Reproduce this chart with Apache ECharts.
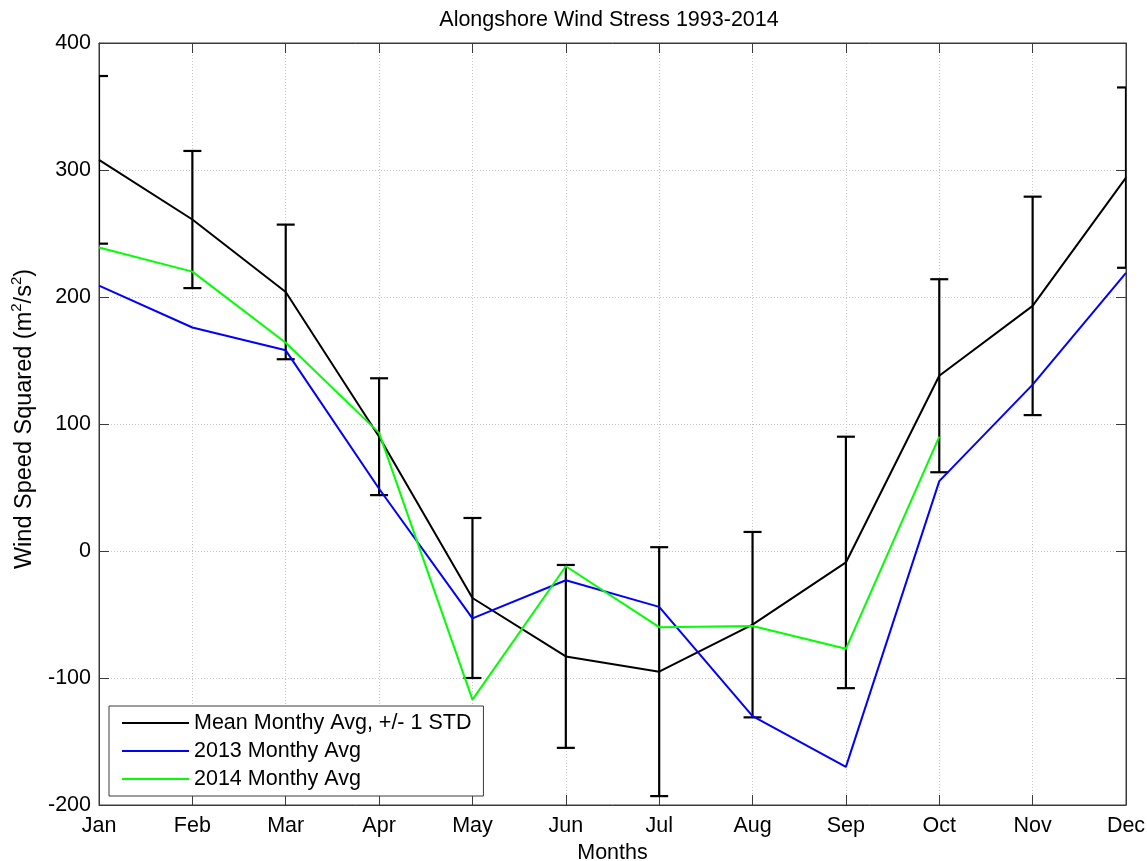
<!DOCTYPE html>
<html>
<head>
<meta charset="utf-8">
<script src="https://cdn.jsdelivr.net/npm/echarts@6/dist/echarts.min.js"></script>
<style>
  html, body { margin: 0; padding: 0; background: #fff; }
  #chart { width: 1147px; height: 861px; }
</style>
</head>
<body>
<div id="chart"></div>
<script>
// Monthly alongshore wind stress (wind speed squared, m^2/s^2)
const months = ['Jan', 'Feb', 'Mar', 'Apr', 'May', 'Jun', 'Jul', 'Aug', 'Sep', 'Oct', 'Nov', 'Dec'];
const meanAvg = [308, 261, 204, 90, -37, -83, -95, -58, -9, 138, 193, 294];
const meanStd = [66, 54, 53, 46, 63, 72, 98, 73, 99, 76, 86, 71];
const avg2013 = [209, 176, 158, 49, -53, -23, -44, -130, -170, 55, 131, 219];
const avg2014 = [239, 220, 164, 93, -117, -12, -60, -59, -77, 90, null, null];
const yTicks = { min: -200, max: 400, interval: 100 };

const FONT = '"Liberation Sans", Arial, Helvetica, sans-serif';
const AXIS = '#3a3a3a';

// error bar rows: [month index, mean - std, mean + std]
const errRows = meanAvg.map((m, i) => [i, m - meanStd[i], m + meanStd[i]]);

const chart = echarts.init(document.getElementById('chart'), null, { renderer: 'canvas' });

const gridLine = { show: true, lineStyle: { color: '#c4c4c4', width: 1, type: [1, 2] } };

chart.setOption({
  animation: false,
  backgroundColor: '#fff',
  title: {
    text: 'Alongshore Wind Stress 1993-2014',
    left: 604,
    top: 4,
    textAlign: 'center',
    textStyle: { fontFamily: FONT, fontSize: 21.5, fontWeight: 'normal', color: '#000' }
  },
  grid: {
    left: 99, right: 21, top: 43, bottom: 56,
    outerBoundsMode: 'none',
    containLabel: false,
    show: true, borderColor: AXIS, borderWidth: 1, backgroundColor: '#fff'
  },
  legend: {
    left: 109, top: 706,
    orient: 'vertical',
    data: ['Mean Monthy Avg, +/- 1 STD', '2013 Monthy Avg', '2014 Monthy Avg'],
    icon: 'rect',
    itemWidth: 67, itemHeight: 2, itemGap: 6,
    padding: [6, 12, 6, 13],
    borderColor: AXIS, borderWidth: 1, backgroundColor: '#fff',
    textStyle: { fontFamily: FONT, fontSize: 21.5, color: '#000', lineHeight: 22 }
  },
  xAxis: [{
    type: 'category',
    data: months,
    boundaryGap: false,
    name: 'Months',
    nameLocation: 'middle',
    nameGap: 36,
    nameTextStyle: { fontFamily: FONT, fontSize: 21.5, color: '#000' },
    axisLine: { onZero: false, lineStyle: { color: AXIS, width: 1 } },
    axisTick: { inside: true, length: 10, lineStyle: { color: AXIS } },
    axisLabel: { fontFamily: FONT, fontSize: 21.5, color: '#000', margin: 10 },
    splitLine: gridLine
  }, {
    type: 'category',
    data: months,
    boundaryGap: false,
    position: 'top',
    axisLine: { onZero: false, lineStyle: { color: AXIS, width: 1 } },
    axisTick: { inside: true, length: 10, lineStyle: { color: AXIS } },
    axisLabel: { show: false },
    splitLine: { show: false }
  }],
  yAxis: [{
    type: 'value',
    min: yTicks.min, max: yTicks.max, interval: yTicks.interval,
    name: '{a|Wind Speed Squared (m}{s|2}{a|/s}{s|2}{a|)}',
    nameLocation: 'middle',
    nameGap: 62,
    nameRotate: 90,
    nameTextStyle: {
      color: '#000',
      padding: [0, 0, 0, 10],
      rich: {
        a: { fontFamily: FONT, fontSize: 23.5, color: '#000', lineHeight: 28, verticalAlign: 'bottom' },
        s: { fontFamily: FONT, fontSize: 15, color: '#000', lineHeight: 15, verticalAlign: 'top' }
      }
    },
    axisLine: { show: true, onZero: false, lineStyle: { color: AXIS, width: 1 } },
    axisTick: { show: true, inside: true, length: 10, lineStyle: { color: AXIS } },
    axisLabel: { fontFamily: FONT, fontSize: 21.5, color: '#000', margin: 8 },
    splitLine: gridLine
  }, {
    type: 'value',
    position: 'right',
    min: yTicks.min, max: yTicks.max, interval: yTicks.interval,
    axisLine: { show: true, onZero: false, lineStyle: { color: AXIS, width: 1 } },
    axisTick: { show: true, inside: true, length: 10, lineStyle: { color: AXIS } },
    axisLabel: { show: false },
    splitLine: { show: false }
  }],
  series: [
    {
      name: 'Mean Monthy Avg, +/- 1 STD',
      type: 'line',
      data: meanAvg,
      symbol: 'none',
      color: '#000',
      lineStyle: { color: '#000', width: 2 },
      z: 3
    },
    {
      name: 'mean-std-bars',
      type: 'custom',
      data: errRows,
      clip: true,
      z: 3,
      renderItem: function (params, api) {
        const idx = api.value(0);
        const lo = api.coord([idx, api.value(1)]);
        const hi = api.coord([idx, api.value(2)]);
        const half = 9;
        const style = { stroke: '#000', lineWidth: 2.2, fill: null };
        return {
          type: 'group',
          children: [
            { type: 'line', shape: { x1: lo[0], y1: lo[1], x2: hi[0], y2: hi[1] }, style: style },
            { type: 'line', shape: { x1: hi[0] - half, y1: hi[1], x2: hi[0] + half, y2: hi[1] }, style: style },
            { type: 'line', shape: { x1: lo[0] - half, y1: lo[1], x2: lo[0] + half, y2: lo[1] }, style: style }
          ]
        };
      }
    },
    {
      name: '2013 Monthy Avg',
      type: 'line',
      data: avg2013,
      symbol: 'none',
      color: '#0000ff',
      lineStyle: { color: '#0000ff', width: 2 },
      z: 4
    },
    {
      name: '2014 Monthy Avg',
      type: 'line',
      data: avg2014,
      symbol: 'none',
      color: '#00ff00',
      lineStyle: { color: '#00ff00', width: 2 },
      z: 5
    }
  ]
});
</script>
</body>
</html>
